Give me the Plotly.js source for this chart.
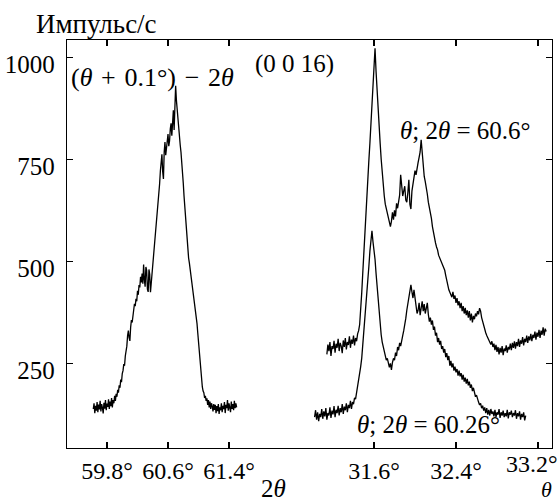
<!DOCTYPE html>
<html>
<head>
<meta charset="utf-8">
<script src="https://cdn.plot.ly/plotly-3.0.1.min.js"></script>
<style>html,body{margin:0;padding:0;background:#fff;}#chart{width:560px;height:501px;}</style>
</head>
<body>
<div id="chart"></div>
<script>
// Left scan: (theta + 0.1°) - 2theta, plotted against 2theta (deg), 0.01° step grid
const leftStart = 59.62, leftStep = 0.01;
const leftCounts = [
  138,152,128,146,134,155,130,149,137,158,132,150,141,127,153,139,160,135,151,143,
  162,138,156,145,165,142,160,152,170,158,175,168,185,178,196,190,210,204,225,232,
  248,244,268,276,292,318,330,312,305,338,356,350,372,382,396,390,408,402,428,418,
  442,436,462,448,470,445,492,455,438,486,478,432,425,480,468,424,445,470,500,512,
  538,552,578,596,618,640,662,690,722,745,762,720,702,768,792,760,775,800,812,782,
  795,825,838,808,858,870,822,880,930,895,868,840,815,800,785,768,748,722,692,660,
  632,608,580,552,528,508,496,482,468,455,442,425,408,398,388,365,348,325,302,272,
  245,220,200,192,182,178,165,170,158,164,148,160,142,156,138,152,145,132,150,136,
  148,128,145,133,150,126,142,135,152,130,146,138,155,128,148,140,160,134,152,143,
  130,156,138,150,135,158,140,152,142];

// Right scans: theta-2theta, plotted against theta (deg), 0.01° step grid
const upStart = 31.14, upStep = 0.01;   // theta; 2theta = 60.6°
const upCounts = [
  272,296,280,302,268,292,285,305,276,298,288,310,280,300,292,275,306,290,312,284,
  302,295,316,288,308,298,318,294,312,304,322,330,345,375,422,470,520,575,626,668,
  712,748,790,835,871,915,955,1022,965,912,868,825,789,750,715,683,660,640,628,612,
  600,590,585,598,620,602,625,610,642,630,648,662,712,688,660,672,684,650,645,668,
  700,640,628,672,692,708,722,712,735,742,755,768,798,760,728,708,695,683,665,645,
  632,622,605,585,568,552,545,535,528,515,508,502,495,488,482,478,465,450,440,430,
  424,418,412,425,408,416,398,410,392,402,385,398,378,390,372,386,368,380,362,378,
  355,372,350,366,358,372,365,378,370,385,378,362,352,340,332,325,318,312,306,300,
  296,304,290,298,282,295,278,290,272,288,276,292,270,286,280,294,276,290,284,298,
  282,300,288,304,286,302,292,310,290,306,298,314,294,310,302,318,300,316,306,322,
  304,320,312,328,308,325,315,332,312,330,320,338,318,335,328];

const lowStart = 31.02, lowStep = 0.01;  // theta; 2theta = 60.26°
const lowCounts = [
  118,135,112,130,108,126,118,138,114,132,120,140,112,128,122,142,116,134,125,145,
  118,136,128,146,122,140,130,150,126,144,135,152,130,148,140,158,138,155,150,165,
  162,178,185,205,225,242,262,292,322,352,382,415,452,488,525,560,575,548,530,505,
  470,438,405,372,342,320,302,290,278,270,258,262,248,240,250,234,252,262,258,276,
  268,290,282,300,292,312,318,330,342,360,380,398,412,428,442,425,410,430,405,392,
  372,380,398,368,385,402,378,395,372,388,398,370,352,362,345,355,332,340,318,325,
  302,312,296,305,285,292,276,285,265,275,258,268,244,256,240,250,232,242,228,236,
  220,232,218,226,210,222,205,215,200,212,196,205,190,198,182,190,175,168,172,160,
  155,148,152,140,146,134,142,128,140,124,136,122,138,126,132,120,136,118,130,124,
  138,116,130,122,134,118,128,120,136,115,130,124,134,118,128,122,135,114,128,120,
  132,112,126,118,130,110,122];

const xTicksLeft = [59.8, 60.6, 61.4];
const xTicksRight = [31.6, 32.4, 33.2];
const yTicks = [250, 500, 750, 1000];

function grid(start, step, n) { const a = []; for (let i = 0; i < n; i++) a.push(+(start + step * i).toFixed(4)); return a; }
const deg = v => v.toFixed(1) + '°';

const FONT = '"Liberation Serif", "Times New Roman", serif';
const FS = 25;
const XFS = 24;
const lineStyle = {color: '#000', width: 1.3};

const traces = [
  {x: grid(leftStart, leftStep, leftCounts.length), y: leftCounts, xaxis: 'x', yaxis: 'y', mode: 'lines', line: lineStyle, hoverinfo: 'skip'},
  {x: grid(upStart, upStep, upCounts.length), y: upCounts, xaxis: 'x2', yaxis: 'y2', mode: 'lines', line: lineStyle, hoverinfo: 'skip'},
  {x: grid(lowStart, lowStep, lowCounts.length), y: lowCounts, xaxis: 'x2', yaxis: 'y2', mode: 'lines', line: lineStyle, hoverinfo: 'skip'}
];

const split = 0.4186;
const yRange = [42.4, 1042.4];
const common = {showline: true, linecolor: '#000', linewidth: 1.3, ticks: 'inside', ticklen: 6, tickwidth: 1.2, tickcolor: '#000', showgrid: false, zeroline: false, tickfont: {family: FONT, size: FS, color: '#000'}};

// the last right-hand tick label sits against the page edge; it is drawn as a right-aligned annotation
const rightTickText = xTicksRight.map((v, i) => i === xTicksRight.length - 1 ? '' : deg(v));
const lastRight = xTicksRight[xTicksRight.length - 1];

const layout = {
  width: 560, height: 501,
  margin: {l: 67, r: 8, t: 40, b: 53},
  paper_bgcolor: '#fff', plot_bgcolor: '#fff',
  showlegend: false,
  font: {family: FONT, color: '#000', size: FS},
  xaxis: Object.assign({}, common, {domain: [0, split], range: [59.2754, 61.9377], anchor: 'y', mirror: 'ticks', tickmode: 'array', tickvals: xTicksLeft, ticktext: xTicksLeft.map(deg), ticklabelstandoff: 1, tickfont: {family: FONT, size: XFS, color: '#000'}}),
  xaxis2: Object.assign({}, common, {domain: [split, 1], range: [30.5854, 33.3366], anchor: 'y2', mirror: 'ticks', tickmode: 'array', tickvals: xTicksRight, ticktext: rightTickText, ticklabelstandoff: 1, tickfont: {family: FONT, size: XFS, color: '#000'}}),
  yaxis: Object.assign({}, common, {domain: [0, 1], range: yRange, anchor: 'x', tickmode: 'array', tickvals: yTicks, ticktext: yTicks.map(String), ticklabelstandoff: 6, ticklabelshift: 7}),
  yaxis2: Object.assign({}, common, {domain: [0, 1], range: yRange, anchor: 'x2', side: 'right', tickmode: 'array', tickvals: yTicks, showticklabels: false}),
  annotations: [
    {text: deg(lastRight), xref: 'paper', yref: 'paper', x: (559 - 67) / 485, y: (448 - 464) / 408, xanchor: 'right', yanchor: 'middle', showarrow: false, borderpad: 0, font: {family: FONT, size: XFS}},
    {text: 'Импульс/с', xref: 'paper', yref: 'paper', x: -0.068, y: (448 - 24) / 408, xanchor: 'left', yanchor: 'middle', showarrow: false, font: {family: FONT, size: 27}},
    {text: '(<i>θ</i>\u200a + \u200a0.1°) \u200a− \u200a2<i>θ</i>', xref: 'paper', yref: 'paper', x: 0.004, y: (448 - 77) / 408, xanchor: 'left', yanchor: 'middle', showarrow: false, font: {family: FONT, size: 26}},
    {text: '(0 0 16)', xref: 'paper', yref: 'paper', x: 0.3835, y: (448 - 64) / 408, xanchor: 'left', yanchor: 'middle', showarrow: false, font: {family: FONT, size: FS}},
    {text: '<i>θ</i>; 2<i>θ</i> = 60.6°', xref: 'paper', yref: 'paper', x: 0.6825, y: (448 - 130) / 408, xanchor: 'left', yanchor: 'middle', showarrow: false, font: {family: FONT, size: FS}},
    {text: '<i>θ</i>; 2<i>θ</i> = 60.26°', xref: 'paper', yref: 'paper', x: 0.594, y: (448 - 424) / 408, xanchor: 'left', yanchor: 'middle', showarrow: false, font: {family: FONT, size: FS}},
    {text: '2<i>θ</i>', xref: 'paper', yref: 'paper', x: (273 - 67) / 485, y: (448 - 488) / 408, xanchor: 'center', yanchor: 'middle', showarrow: false, font: {family: FONT, size: FS}},
    {text: '<i>θ</i>', xref: 'paper', yref: 'paper', x: (546 - 67) / 485, y: (448 - 489) / 408, xanchor: 'center', yanchor: 'middle', showarrow: false, borderpad: 0, font: {family: FONT, size: 22}}
  ]
};

Plotly.newPlot('chart', traces, layout, {staticPlot: true, displayModeBar: false});
</script>
</body>
</html>
